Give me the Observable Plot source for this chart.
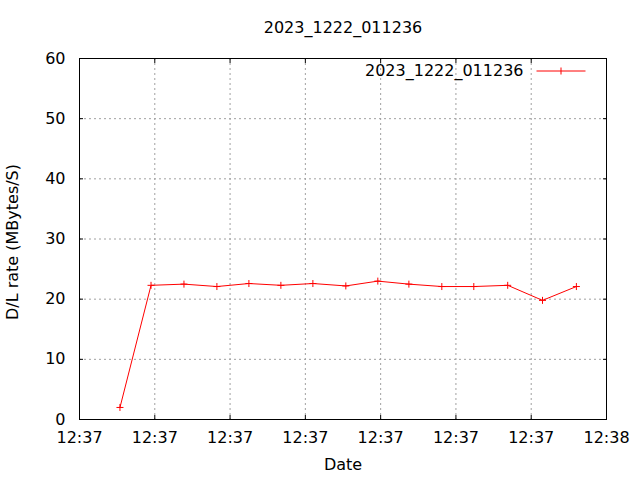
<!DOCTYPE html>
<html>
<head>
<meta charset="utf-8">
<script src="https://cdn.jsdelivr.net/npm/d3@7"></script>
<script src="https://cdn.jsdelivr.net/npm/@observablehq/plot@0.6"></script>
<style>
  html, body { margin: 0; padding: 0; background: #fff; }
</style>
</head>
<body>
<div id="chart"></div>
<script>
// ---- data ----
const title = "2023_1222_011236";
const seriesName = "2023_1222_011236";
const xLabel = "Date";
const yLabel = "D/L rate (MBytes/S)";

const times = [
  "12:37:08.3", "12:37:11.6", "12:37:15.1", "12:37:18.6", "12:37:22.0",
  "12:37:25.4", "12:37:28.8", "12:37:32.3", "12:37:35.7", "12:37:39.0",
  "12:37:42.5", "12:37:45.9", "12:37:49.5", "12:37:53.2", "12:37:56.8"
];
const rates = [
  2.0, 22.3, 22.5, 22.1, 22.6,
  22.3, 22.6, 22.2, 23.0, 22.5,
  22.1, 22.1, 22.3, 19.8, 22.1
];
const xTicks = ["12:37:04", "12:37:12", "12:37:20", "12:37:28", "12:37:36", "12:37:44", "12:37:52", "12:38:00"];
const yTicks = [0, 10, 20, 30, 40, 50, 60];

// ---- build ----
const parse = t => new Date(`2023-12-22T${t}Z`);
const data = times.map((t, i) => ({date: parse(t), rate: rates[i]}));
const xTickDates = xTicks.map(parse);

const plusSymbol = {
  draw(ctx, size) {
    const r = Math.sqrt(size / Math.PI);
    ctx.moveTo(-r, 0); ctx.lineTo(r, 0);
    ctx.moveTo(0, -r); ctx.lineTo(0, r);
  }
};
const legendSymbol = {
  draw(ctx, size) {
    const r = Math.sqrt(size / Math.PI);
    ctx.moveTo(-7 * r, 0); ctx.lineTo(7 * r, 0);
    ctx.moveTo(0, -r); ctx.lineTo(0, r);
  }
};

const red = "#ff0000";
const gridStyle = {stroke: "#a0a0a0", strokeOpacity: 1, strokeDasharray: "2,3", strokeWidth: 1};

const chart = Plot.plot({
  width: 640,
  height: 480,
  marginLeft: 79,
  marginRight: 34,
  marginTop: 58,
  marginBottom: 61,
  style: {fontFamily: "DejaVu Sans", fontSize: "16px", background: "#fff", color: "#000"},
  x: {type: "utc", domain: [xTickDates[0], xTickDates[xTickDates.length - 1]]},
  y: {domain: [0, 60]},
  marks: [
    Plot.gridX(xTickDates, gridStyle),
    Plot.gridY(yTicks, gridStyle),
    Plot.frame({stroke: "#000", strokeWidth: 1}),
    // inward ticks on all four sides
    Plot.axisX(xTickDates, {anchor: "bottom", tickSize: -4, text: null, label: null, stroke: "#000"}),
    Plot.axisX(xTickDates, {anchor: "top", tickSize: -4, text: null, label: null, stroke: "#000"}),
    Plot.axisY(yTicks, {anchor: "left", tickSize: -4, text: null, label: null, stroke: "#000"}),
    Plot.axisY(yTicks, {anchor: "right", tickSize: -4, text: null, label: null, stroke: "#000"}),
    // tick labels
    Plot.axisX(xTickDates, {anchor: "bottom", tickSize: 0, tickPadding: 12, tickFormat: d3.utcFormat("%H:%M"), label: null, fill: "#000"}),
    Plot.axisY(yTicks, {anchor: "left", tickSize: 0, tickPadding: 14, label: null, fill: "#000"}),
    // series
    Plot.line(data, {x: "date", y: "rate", stroke: red, strokeWidth: 1}),
    Plot.dot(data, {x: "date", y: "rate", symbol: plusSymbol, r: 3.5, stroke: red, fill: "none", strokeWidth: 1}),
    // legend
    Plot.text([seriesName], {frameAnchor: "top-right", dx: -83, dy: 12, textAnchor: "end", lineAnchor: "middle", fill: "#000"}),
    Plot.dot([seriesName], {frameAnchor: "top-right", dx: -45.5, dy: 12.5, symbol: legendSymbol, r: 3.5, stroke: red, fill: "none", strokeWidth: 1}),
    // titles
    Plot.text([title], {frameAnchor: "top", dy: -31, textAnchor: "middle", lineAnchor: "middle", fill: "#000"}),
    Plot.text([xLabel], {frameAnchor: "bottom", dy: 45, textAnchor: "middle", lineAnchor: "middle", fill: "#000"}),
    Plot.text([yLabel], {frameAnchor: "left", dx: -66.5, dy: 3, rotate: -90, textAnchor: "middle", lineAnchor: "middle", fill: "#000"})
  ]
});
document.getElementById("chart").appendChild(chart);
</script>
</body>
</html>
